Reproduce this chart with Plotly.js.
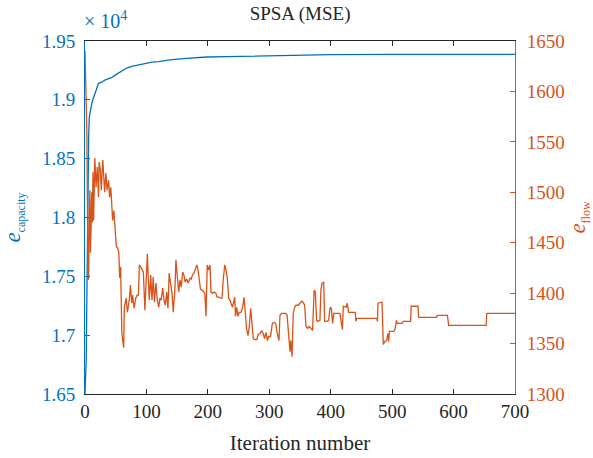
<!DOCTYPE html>
<html>
<head>
<meta charset="utf-8">
<script src="https://cdn.plot.ly/plotly-3.0.1.min.js"></script>
<style>html,body{margin:0;padding:0;background:#fff;}#chart{width:593px;height:458px;}</style>
</head>
<body>
<div id="chart"></div>
<script>
// Blue series: e_capacity (left axis)
const capIter = [0,1,2,3,4,5,6,7,8,10,12,14,18,22,27,33,38,44,49,55,60,68,76,90,100,109,120,138,160,198,230,263,317,400,500,600,700];
const capVal  = [16500,16600,16800,17300,17900,18400,18700,18850,18900,18940,18990,19025,19080,19140,19150,19170,19180,19190,19210,19230,19250,19270,19285,19300,19305,19320,19325,19340,19350,19364,19367,19370,19380,19384,19386,19387,19387];

// Orange series: e_flow (right axis)
const flowIter = [0,1,3,5,6,7,8,9,10,11,12,13,14,16,18,20,22,23,25,26.5,29,31,32,34,36,38.5,40,42,45,47,49,51,53,55,56.5,58,60,62,63,64,67,69,72,74,76,77.5,80,82.5,85,87,88.5,90.5,93,95,97.5,99,101.5,103,104.7,107,109,111,113,115.5,117.7,120,122,124,126.5,128.6,130.7,133,135,137,139.5,141.6,143.7,146.5,148,150,152.5,154.6,156.8,159,161,163,165.5,168,171,173,175,177.5,179.6,182,184,186,188,190.5,192.6,195,197,199,201,203.5,205,208,210.5,213,215,218.6,221,223,225,227.5,229.5,231.6,234,236,240,242.5,243.7,245,247,249,251,254,256.7,259,261,263,265.4,267.5,269.7,272,274,276,279.5,282,285,287.6,290,292.5,294.6,297,299,302,305,307.7,310.4,313,315.8,317.4,320,323,327,329,331.6,333.7,335,337,339,341.4,343.5,347,350,352.7,355,357.6,359.7,362.5,365,368,370.5,373,375,377,379,382.5,384,386,388.6,390,393.5,396.7,399,401,403,405,408.5,412,415,419,420.5,425,427,429,440,441,442.3,475,476,477,483.5,485.6,488,491,493,494.5,495.5,503,505,507,508.6,516,518,530,531,542,543,572.5,573.5,590,592,653,654,700];
const flowVal  = [1640,1610,1560,1413,1415,1480,1502,1440,1472,1500,1470,1520,1472,1534,1505,1525,1495,1530,1522,1502,1532,1505,1500,1519,1502,1512,1495,1505,1472,1482,1462,1446,1445,1440,1415,1426,1360,1348,1346,1386,1395,1381,1393,1408,1390,1398,1385,1395,1398,1398,1428,1426,1423,1421,1383,1403,1439,1415,1393,1418,1393,1416,1391,1410,1393,1386,1395,1393,1405,1393,1388,1401,1385,1420,1410,1400,1381,1406,1433,1416,1401,1413,1406,1421,1418,1411,1414,1410,1415,1414,1418,1420,1424,1428,1423,1410,1404,1403,1401,1400,1377,1428,1423,1428,1401,1400,1401,1400,1396,1396,1395,1395,1413,1428,1423,1415,1395,1393,1386,1395,1396,1377,1386,1377,1381,1381,1386,1396,1378,1365,1358,1367,1385,1368,1355,1354,1354,1359,1360,1363,1360,1355,1361,1353,1357,1357,1370,1371,1370,1360,1353,1378,1380,1380,1380,1378,1357,1342,1353,1337,1380,1386,1388,1388,1390,1392,1391,1388,1367,1365,1367,1365,1363,1403,1401,1373,1372,1373,1403,1410,1411,1372,1372,1373,1386,1385,1370,1380,1380,1380,1380,1364,1387,1386,1390,1381,1381,1372,1375,1375,1372,1390,1391,1349,1352,1353,1360,1352,1362,1362,1365,1373,1370,1370,1372,1372,1387,1387,1376,1376,1378,1378,1368,1368,1380,1380];

// Tick labels
const xTicks = [0,100,200,300,400,500,600,700];
const capTickVals = [16500,17000,17500,18000,18500,19000,19500];
const capTickText = ['1.65','1.7','1.75','1.8','1.85','1.9','1.95'];
const flowTicks = [1300,1350,1400,1450,1500,1550,1600,1650];

const BLUE = '#0072BD';
const ORANGE = '#D95319';
const AX = '#262626';
const FONT = 'Liberation Serif, Times New Roman, serif';

const traces = [
  {x: capIter, y: capVal, type: 'scatter', mode: 'lines', yaxis: 'y',
   line: {color: BLUE, width: 1.3}, hoverinfo: 'skip'},
  {x: flowIter, y: flowVal, type: 'scatter', mode: 'lines', yaxis: 'y2',
   line: {color: ORANGE, width: 1.3}, hoverinfo: 'skip'}
];

const layout = {
  width: 593, height: 458,
  margin: {l: 85, r: 78, t: 41, b: 64},
  paper_bgcolor: '#fff', plot_bgcolor: '#fff',
  showlegend: false,
  font: {family: FONT, size: 19, color: AX},
  title: {text: 'SPSA (MSE)', font: {family: FONT, size: 19, color: AX}, x: 0.506, xanchor: 'center', y: 0.97, yanchor: 'middle'},
  xaxis: {
    range: [0, 700], tickvals: xTicks, ticktext: xTicks.map(String),
    ticks: 'inside', ticklen: 5, tickcolor: AX, showline: true, linecolor: AX, linewidth: 1,
    mirror: 'ticks', showgrid: false, zeroline: false,
    tickfont: {family: FONT, size: 19, color: AX},
    title: {text: 'Iteration number', font: {family: FONT, size: 21, color: AX}, standoff: 14}
  },
  yaxis: {
    range: [16500, 19500], tickvals: capTickVals, ticktext: capTickText,
    ticks: 'inside', ticklen: 5, tickcolor: BLUE, showline: true, linecolor: BLUE, linewidth: 1,
    showgrid: false, zeroline: false, ticklabelstandoff: 5,
    tickfont: {family: FONT, size: 19, color: BLUE},
    title: {text: '<i>e</i><sub><span style="font-size:12px">capacity</span></sub>', font: {family: FONT, size: 23, color: BLUE}, standoff: 14}
  },
  yaxis2: {
    range: [1300, 1650], tickvals: flowTicks, ticktext: flowTicks.map(String),
    overlaying: 'y', side: 'right',
    ticks: 'inside', ticklen: 5, tickcolor: ORANGE, showline: true, linecolor: ORANGE, linewidth: 1,
    showgrid: false, zeroline: false, ticklabelstandoff: 7,
    tickfont: {family: FONT, size: 19, color: ORANGE},
    title: {text: '<i>e</i><sub><span style="font-size:12px">flow</span></sub>', font: {family: FONT, size: 23, color: ORANGE}, standoff: 5}
  },
  annotations: [
    {text: '× 10<sup>4</sup>', xref: 'paper', yref: 'paper', x: 0, y: 1, xanchor: 'left', yanchor: 'bottom',
     xshift: -3, yshift: 7, showarrow: false, font: {family: FONT, size: 20, color: BLUE}}
  ]
};

Plotly.newPlot('chart', traces, layout, {displayModeBar: false, staticPlot: true});
</script>
</body>
</html>
